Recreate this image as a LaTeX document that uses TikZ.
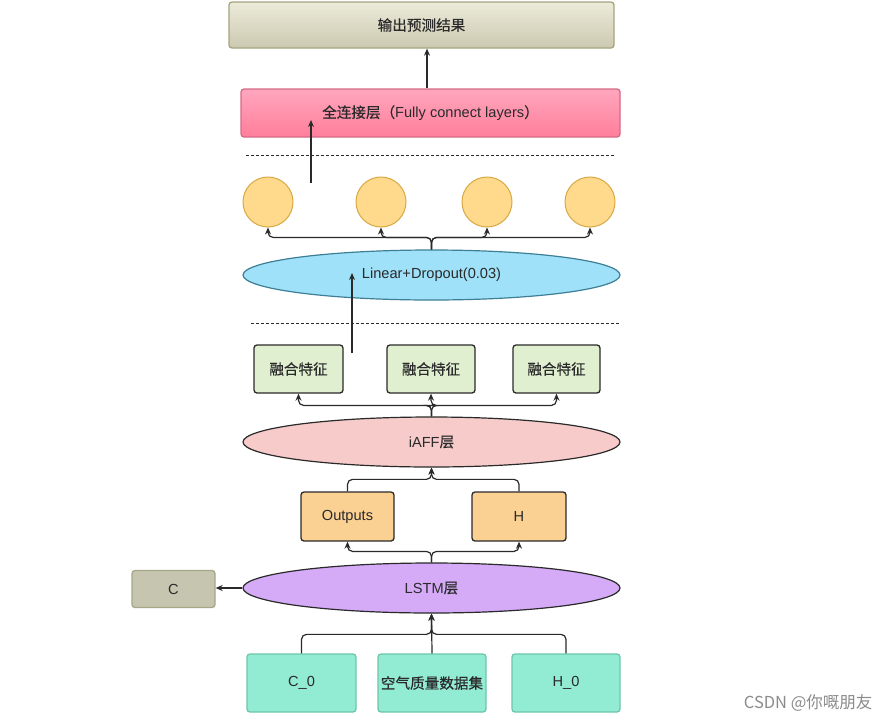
\documentclass[tikz,border=0pt]{standalone}
\usepackage{fontspec}
\setmainfont{Liberation Sans}
\newfontfamily\cjk[FakeBold=0.5]{Noto Sans CJK SC}
\newfontfamily\cjkwm{Noto Sans CJK SC}
\usetikzlibrary{arrows.meta,shapes.geometric}
\definecolor{resT}{HTML}{ECEBD9}
\definecolor{resB}{HTML}{CCC9B1}
\definecolor{resD}{HTML}{A5A47F}
\definecolor{fcT}{HTML}{FFA6BE}
\definecolor{fcB}{HTML}{FF7E9A}
\definecolor{fcD}{HTML}{D46A85}
\definecolor{cirF}{HTML}{FFD98C}
\definecolor{cirD}{HTML}{D8A843}
\definecolor{linF}{HTML}{9EE1F8}
\definecolor{linD}{HTML}{3F7F96}
\definecolor{fuseF}{HTML}{E0EFD0}
\definecolor{iaffF}{HTML}{F8CBCB}
\definecolor{orgF}{HTML}{FBD093}
\definecolor{lstmF}{HTML}{D5AAF7}
\definecolor{cF}{HTML}{C6C5B0}
\definecolor{cD}{HTML}{A7A688}
\definecolor{mintF}{HTML}{92EBD3}
\definecolor{mintD}{HTML}{6EC5AB}
\definecolor{ink}{HTML}{2A2A2A}
\begin{document}
\begin{tikzpicture}[x=1pt,y=-1pt,
  font=\fontsize{14.6}{17}\selectfont, text=ink,
  box/.style={draw=ink, line width=1.3pt, rounded corners=3pt, inner sep=0pt},
  ell/.style={ellipse, draw=ink, line width=1.2pt, inner sep=0pt, minimum width=377pt, minimum height=50pt},
  circ/.style={circle, draw=cirD, fill=cirF, line width=1pt, minimum size=50pt, inner sep=0pt},
  arr/.style={draw=ink, line width=1.2pt, -{Stealth[length=7pt,width=6pt]}},
  bus/.style={arr, rounded corners=5pt},
  sep/.style={draw=ink, line width=1pt, dash pattern=on 3pt off 2pt}]
\useasboundingbox (0,0) rectangle (891,721);
\fill[white] (0,0) rectangle (891,721);

% top boxes
\node[box, draw=resD, top color=resT, bottom color=resB, minimum width=385pt, minimum height=46pt] (res) at (421.5,25) {\cjk 输出预测结果};
\node[box, draw=fcD, top color=fcT, bottom color=fcB, minimum width=379pt, minimum height=48pt] (fc) at (430.5,113) {{\cjk 全连接层（}Fully connect layers{\cjk ）}};
\draw[arr] ([xshift=-3.5pt]fc.north) -- ([xshift=5.5pt]res.south);

\draw[sep] (246,155) coordinate (s1a) -- (614,155) coordinate (s1b);

% circles
\node[circ] (c1) at (268,202) {};
\node[circ] (c2) at (381,202) {};
\node[circ] (c3) at (487,202) {};
\node[circ] (c4) at (590,202) {};
\coordinate (fcin) at (311,183);
\coordinate (fctip) at (311,120);
\draw[arr] (fcin) -- (fctip);

% linear
\node[ell, draw=linD, fill=linF] (lin) at (431.5,275) {Linear+Dropout(0.03)};
\foreach \c in {c1,c2,c3,c4}
  \draw[bus] (lin.north) -- ++(0,-12) -| (\c.south);

\draw[sep] (251,323) coordinate (s2a) -- (620,323) coordinate (s2b);
\coordinate (linin) at (352,353);
\coordinate (lintip) at (352,273);
\draw[arr] (linin) -- (lintip);

% fusion boxes
\node[box, fill=fuseF, minimum width=89pt, minimum height=48pt] (f1) at (298.5,369) {\cjk 融合特征};
\node[box, fill=fuseF, minimum width=88pt, minimum height=48pt] (f2) at (431,369) {\cjk 融合特征};
\node[box, fill=fuseF, minimum width=87pt, minimum height=48pt] (f3) at (556.5,369) {\cjk 融合特征};

% iAFF
\node[ell, fill=iaffF] (iaff) at (431.5,442) {iAFF{\cjk 层}};
\foreach \f in {f1,f2,f3}
  \draw[bus] (iaff.north) -- ++(0,-11) -| (\f.south);

% outputs / H
\node[box, fill=orgF, minimum width=93pt, minimum height=49pt] (out) at (347.5,516.5) {Outputs};
\node[box, fill=orgF, minimum width=94pt, minimum height=49pt] (h) at (519,516.5) {H};
\draw[bus] (out.north) -- ++(0,-12) -| (iaff.south);
\draw[bus] (h.north) -- ++(0,-12) -| (iaff.south);

% LSTM
\node[ell, fill=lstmF] (lstm) at (431.5,588) {LSTM{\cjk 层}};
\draw[bus] (lstm.north) -- ++(0,-11) -| (out.south);
\draw[bus] (lstm.north) -- ++(0,-11) -| (h.south);

\node[box, draw=cD, fill=cF, minimum width=83pt, minimum height=37pt] (cc) at (173.5,589) {C};
\draw[arr] (lstm.west) -- (cc.east |- lstm.west);

% inputs
\node[box, draw=mintD, fill=mintF, minimum width=109pt, minimum height=58pt] (c0) at (301.5,683) {C\_0};
\node[box, draw=mintD, fill=mintF, minimum width=108pt, minimum height=58pt] (ds) at (432,683) {\cjk 空气质量数据集};
\node[box, draw=mintD, fill=mintF, minimum width=108pt, minimum height=58pt] (h0) at (566,683) {H\_0};
\draw[bus] (c0.north) -- ++(0,-19) -| (lstm.south);
\draw[bus] (h0.north) -- ++(0,-19) -| (lstm.south);
\draw[arr] (ds.north) -- (lstm.south);

% watermark
\node[anchor=east, text=black!45, font=\fontsize{16.5}{18}\selectfont\cjkwm] (wm) at (876,703) {CSDN @你嘅朋友};
\end{tikzpicture}
\end{document}
